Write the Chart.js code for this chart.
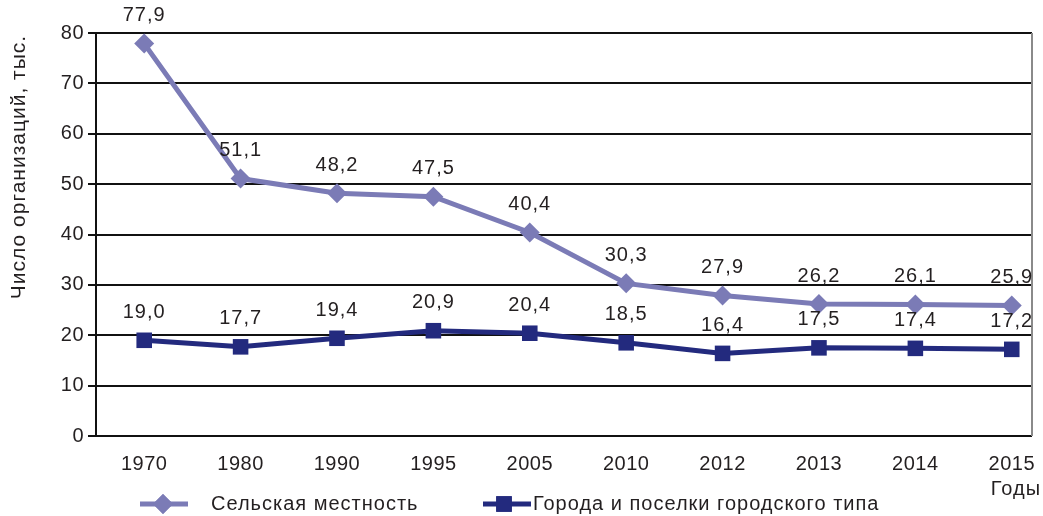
<!DOCTYPE html>
<html>
<head>
<meta charset="utf-8">
<script src="https://cdn.jsdelivr.net/npm/chart.js@4"></script>
<style>
  html, body { margin: 0; padding: 0; background: #fff; }
  #wrap { width: 1043px; height: 516px; position: relative; }
</style>
</head>
<body>
<div id="wrap"><canvas id="c" width="1043" height="516"></canvas></div>
<script>
// Years on the horizontal axis
const years = ['1970', '1980', '1990', '1995', '2005', '2010', '2012', '2013', '2014', '2015'];
// Number of organisations, thousands
const ruralValues = [77.9, 51.1, 48.2, 47.5, 40.4, 30.3, 27.9, 26.2, 26.1, 25.9];
const urbanValues = [19.0, 17.7, 19.4, 20.9, 20.4, 18.5, 16.4, 17.5, 17.4, 17.2];
const seriesNames = ['Сельская местность', 'Города и поселки городского типа'];
const yTicks = [0, 10, 20, 30, 40, 50, 60, 70, 80];
const yTitle = 'Число организаций, тыс.';
const xTitle = 'Годы';

const FONT = '"Liberation Sans", Arial, Helvetica, sans-serif';
const TEXT = '#231f20';
const RURAL = '#7b7bb6';
const URBAN = '#232a7e';

const fmt = v => v.toFixed(1).replace('.', ',');

const extras = {
  id: 'extras',
  beforeDraw(chart) {
    chart.ctx.letterSpacing = '0.5px';
  },
  afterDatasetsDraw(chart) {
    const ctx = chart.ctx;
    const area = chart.chartArea;
    ctx.save();
    ctx.letterSpacing = '1px';
    // right frame line
    ctx.strokeStyle = '#8a8a8a';
    ctx.lineWidth = 2;
    ctx.beginPath();
    ctx.moveTo(area.right, area.top);
    ctx.lineTo(area.right, area.bottom);
    ctx.stroke();

    // value labels above points
    ctx.font = '20px ' + FONT;
    ctx.fillStyle = TEXT;
    ctx.textAlign = 'center';
    ctx.textBaseline = 'middle';
    chart.data.datasets.forEach((ds, di) => {
      const meta = chart.getDatasetMeta(di);
      meta.data.forEach((pt, i) => {
        ctx.fillText(fmt(ds.data[i].y), pt.x, pt.y - 28);
      });
    });

    // axis titles
    ctx.save();
    ctx.font = '21px ' + FONT;
    ctx.translate(19, 167);
    ctx.rotate(-Math.PI / 2);
    ctx.fillText(yTitle, 0, 0);
    ctx.restore();
    ctx.textAlign = 'right';
    ctx.fillText(xTitle, 1041, 489);

    // legend
    const items = [
      { x1: 140, x2: 188, mx: 163, tx: 211 },
      { x1: 483, x2: 531, mx: 504, tx: 533 }
    ];
    chart.data.datasets.forEach((ds, di) => {
      const it = items[di];
      const y = 504;
      ctx.strokeStyle = ds.borderColor;
      ctx.lineWidth = 5;
      ctx.beginPath();
      ctx.moveTo(it.x1, y);
      ctx.lineTo(it.x2, y);
      ctx.stroke();
      ctx.fillStyle = ds.pointBackgroundColor;
      Chart.helpers.drawPoint(ctx, { pointStyle: ds.pointStyle, radius: ds.pointRadius, rotation: 0, borderWidth: 0 }, it.mx, y);
      ctx.fill();
      ctx.fillStyle = TEXT;
      ctx.textAlign = 'left';
      ctx.fillText(ds.label, it.tx, y);
    });
    ctx.restore();
  }
};

new Chart(document.getElementById('c'), {
  type: 'line',
  data: {
    datasets: [
      {
        label: seriesNames[0],
        data: ruralValues.map((v, i) => ({ x: i, y: v })),
        borderColor: RURAL,
        backgroundColor: RURAL,
        pointBackgroundColor: RURAL,
        pointBorderColor: RURAL,
        borderWidth: 5,
        pointStyle: 'rectRot',
        pointRadius: 10,
        pointBorderWidth: 0,
        tension: 0
      },
      {
        label: seriesNames[1],
        data: urbanValues.map((v, i) => ({ x: i, y: v })),
        borderColor: URBAN,
        backgroundColor: URBAN,
        pointBackgroundColor: URBAN,
        pointBorderColor: URBAN,
        borderWidth: 5,
        pointStyle: 'rect',
        pointRadius: 11,
        pointBorderWidth: 0,
        tension: 0
      }
    ]
  },
  options: {
    responsive: false,
    animation: false,
    devicePixelRatio: 1,
    layout: { padding: { top: 33, right: 8, left: 0, bottom: 0 } },
    plugins: { legend: { display: false }, tooltip: { enabled: false } },
    scales: {
      x: {
        type: 'linear',
        min: -0.5,
        max: 9.21,
        afterFit: s => { s.height = 80; s.paddingLeft = 0; s.paddingRight = 0; },
        afterBuildTicks: s => { s.ticks = years.map((_, i) => ({ value: i })); },
        grid: { display: false, drawTicks: false },
        border: { display: false },
        ticks: {
          padding: 16,
          color: TEXT,
          font: { family: FONT, size: 20 },
          maxRotation: 0,
          autoSkip: false,
          callback: v => years[v]
        }
      },
      y: {
        min: 0,
        max: 80,
        afterFit: s => { s.width = 96; s.paddingTop = 0; s.paddingBottom = 0; },
        afterBuildTicks: s => { s.ticks = yTicks.map(v => ({ value: v })); },
        grid: { color: '#111', lineWidth: 2, tickLength: 8, drawTicks: true },
        border: { display: true, color: '#111', width: 2 },
        ticks: {
          padding: 4,
          color: TEXT,
          font: { family: FONT, size: 20 },
          callback: v => String(v)
        }
      }
    }
  },
  plugins: [extras]
});
</script>
</body>
</html>
